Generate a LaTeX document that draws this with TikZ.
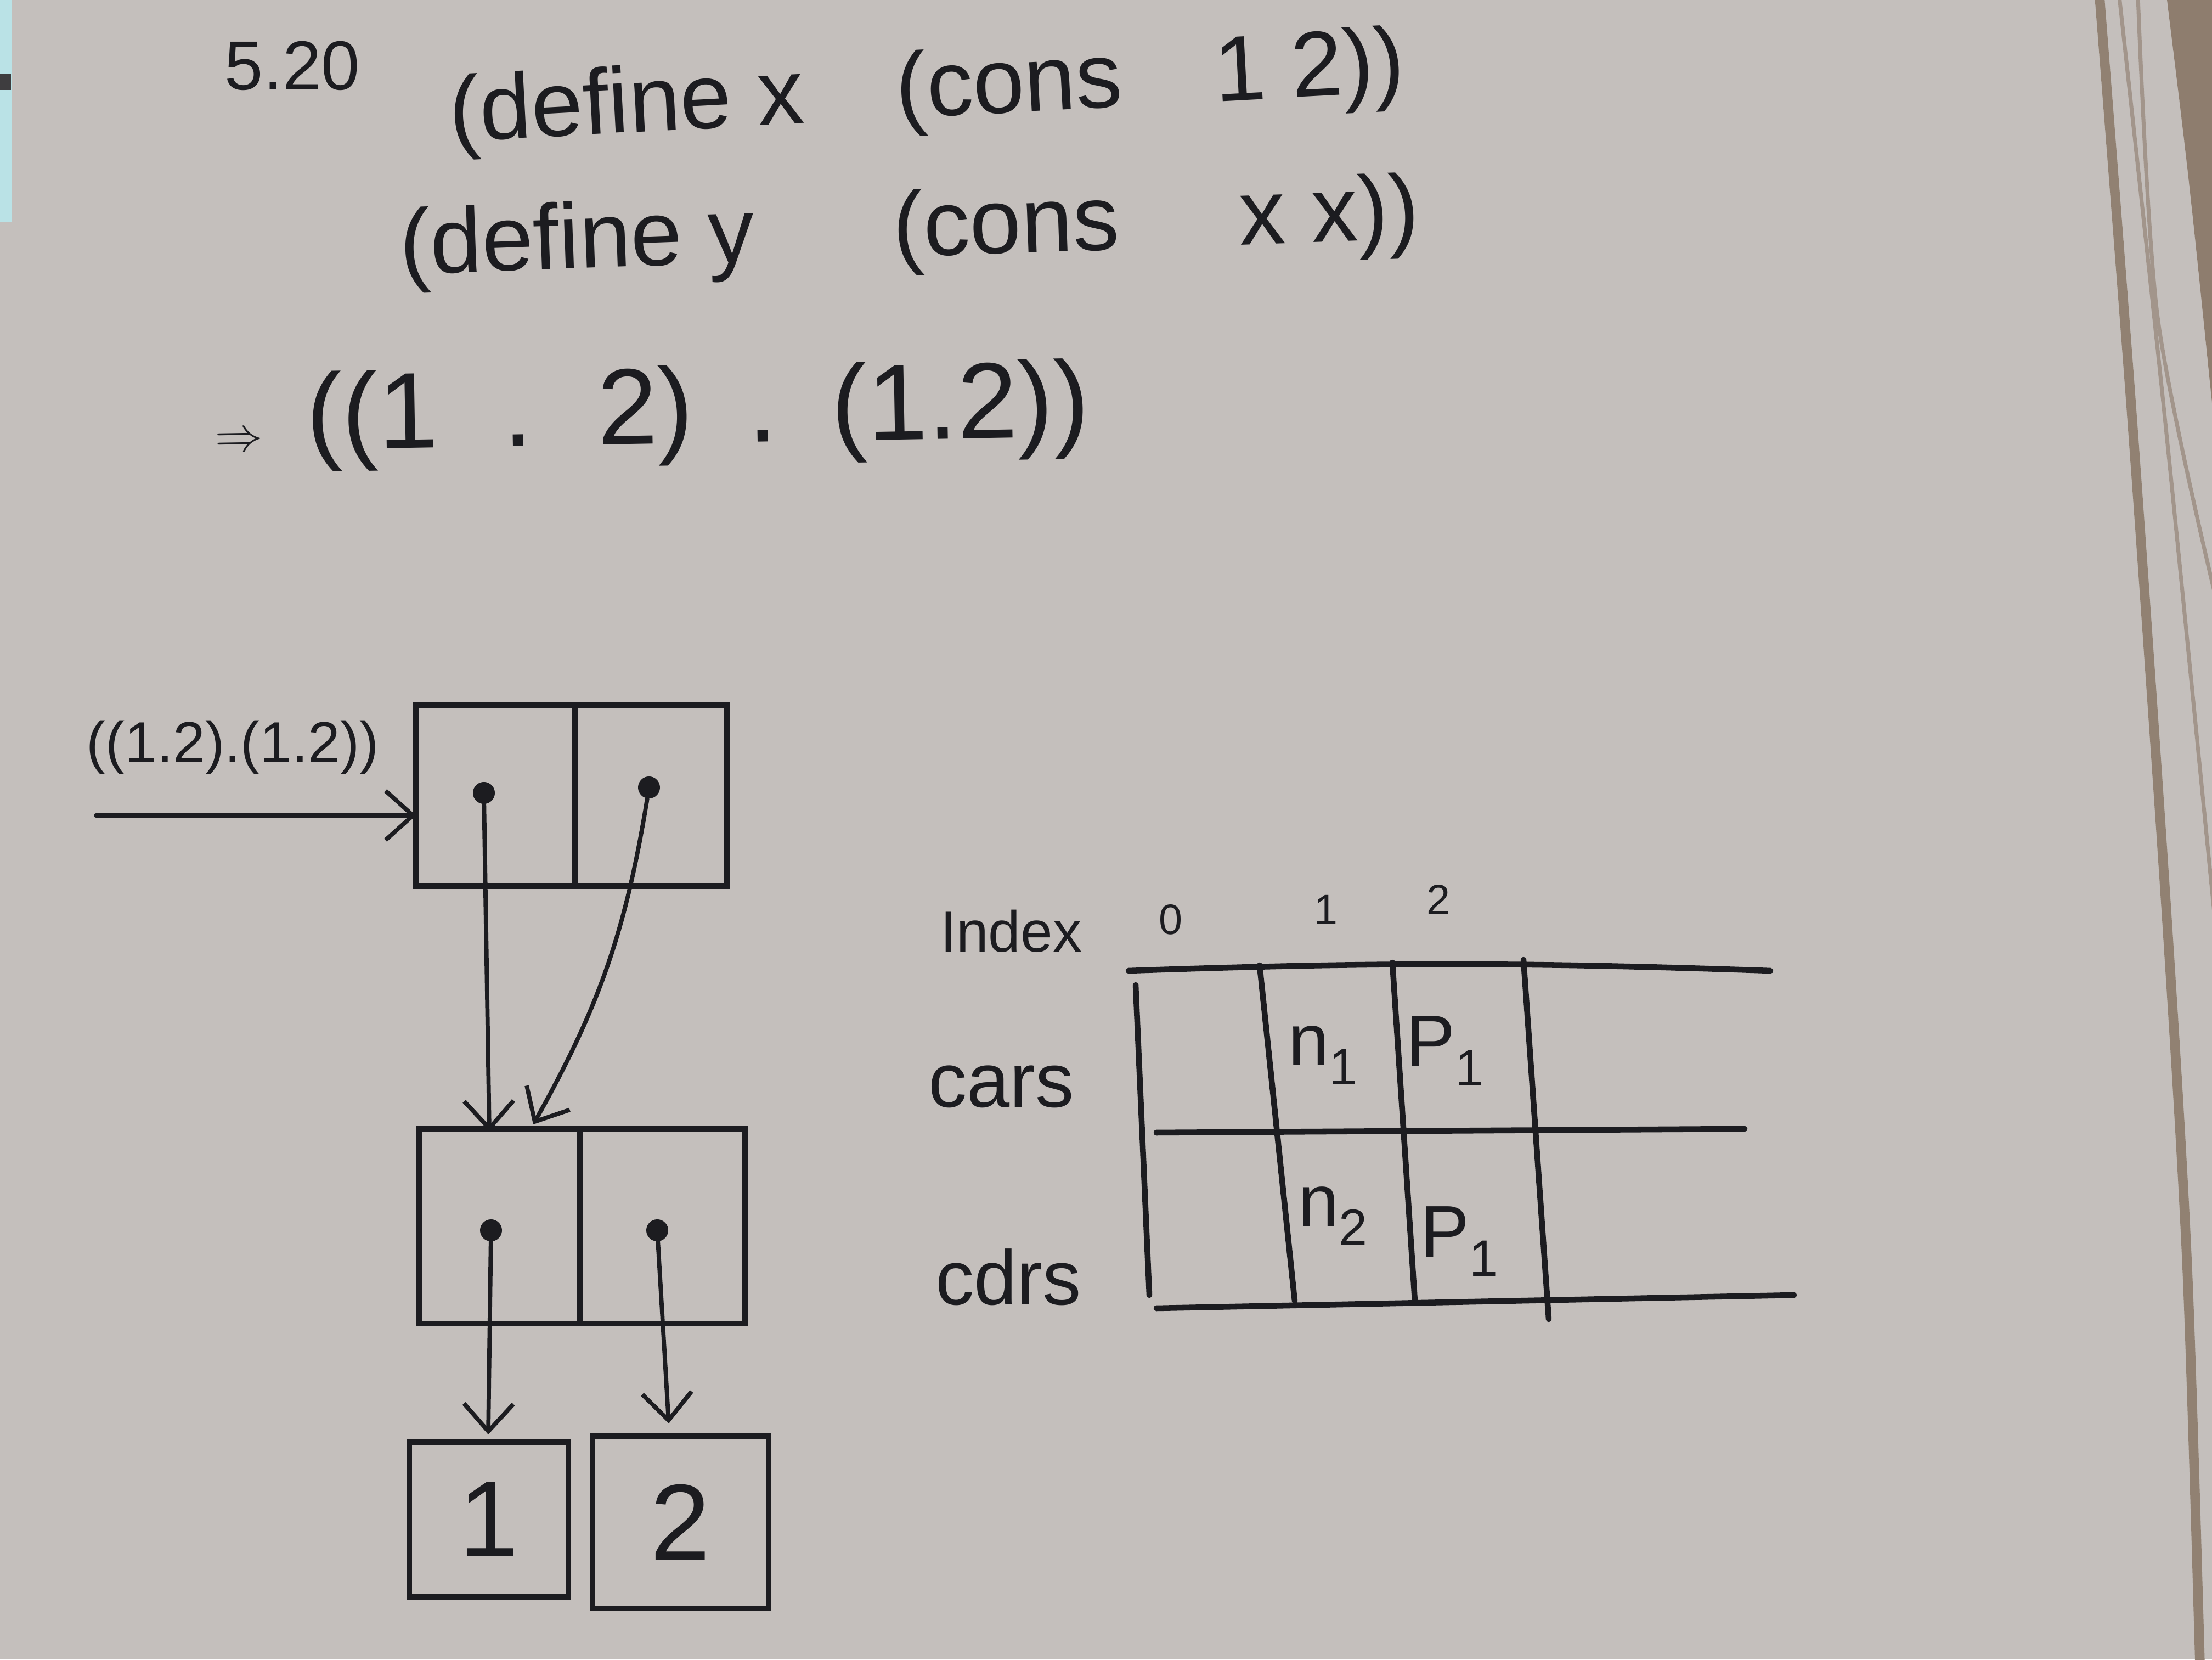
\documentclass[tikz,border=0pt]{standalone}
\usepackage{fontspec}
\setmainfont{Liberation Sans}
\usetikzlibrary{arrows.meta, positioning}

\definecolor{paper}{RGB}{196,191,188}
\definecolor{ink}{RGB}{28,28,32}
\definecolor{shadow}{RGB}{128,108,90}
\definecolor{sky}{RGB}{186,226,230}

\begin{document}
\begin{tikzpicture}[>={Straight Barb[length=5mm,width=9mm]},
  ink/.style={draw=ink, line width=3pt, line cap=round},
  cell/.style={ink, rectangle, inner sep=0pt, outer sep=0pt},
  ptr/.style={->, draw=ink, line width=2.2pt, line cap=round},
  dot/.style={circle, fill=ink, inner sep=0pt, minimum size=4mm},
  hand/.style={text=ink, inner sep=0pt}]
\useasboundingbox (0,0) rectangle (40.32,30.24);
\clip (0,0) rectangle (40.32,30.24);
% paper and page edges
\fill[paper] (0,0) rectangle (40.32,30.24);
\fill[sky] (0,26.2) rectangle (0.22,30.24);
\fill[ink!80!paper] (0,28.6) rectangle (0.2,28.9);
\fill[shadow!80!paper] (39.5,30.24) .. controls (39.9,27) .. (40.32,22.9) -- (40.32,30.24) -- cycle;
\draw[shadow!75!paper, line width=5pt] plot[smooth] coordinates {(38.27,30.3) (38.87,22.53) (39.5,13.46) (39.87,7.10) (40.1,-0.1)};
\draw[shadow!50!paper, line width=2pt] plot[smooth] coordinates {(38.63,30.3) (39.47,22.53) (40.4,13.2)};
\draw[shadow!50!paper, line width=2pt] plot[smooth] coordinates {(38.97,30.3) (39.33,24.45) (40.4,19.3)};

% exercise text
\node[hand, font=\fontsize{36}{40}\selectfont] (num) at (5.33,29.04) {5.20};
\node[hand, font=\fontsize{48}{54}\selectfont, rotate=3] (defx) at (16.9,28.55) {(define x\quad(cons\quad1 2))};
\node[hand, font=\fontsize{48}{54}\selectfont, rotate=2] (defy) at (16.58,26.0) {(define y\hspace{1.5em}(cons\hspace{1.3em}x x))};
\node[hand, font=\fontsize{56}{60}\selectfont, rotate=1] (res) at (11.89,22.66)
  {{\fontsize{28}{30}\selectfont$\Rightarrow$}\hspace{0.4em}((1\hspace{0.6em}.\hspace{0.6em}2)\hspace{0.5em}.\hspace{0.5em}(1.2))};

% box and pointer
\node[hand, font=\fontsize{30}{34}\selectfont] (lbl) at (4.24,16.62) {((1.2).(1.2))};
\node[cell, minimum width=2.89cm, minimum height=3.29cm] (car1) at (9.03,15.74) {};
\node[cell, minimum width=2.77cm, minimum height=3.29cm, right=0pt of car1] (cdr1) {};
\node[cell, minimum width=2.93cm, minimum height=3.55cm] (car2) at (9.105,7.895) {};
\node[cell, minimum width=3.01cm, minimum height=3.55cm, right=0pt of car2] (cdr2) {};
\node[cell, minimum width=2.90cm, minimum height=2.82cm, hand, font=\fontsize{56}{60}\selectfont] (one) at (8.91,2.55) {1};
\node[cell, minimum width=3.21cm, minimum height=3.14cm, hand, font=\fontsize{56}{60}\selectfont] (two) at (12.405,2.50) {2};

\node[dot] (d1) at (8.82,15.79) {};
\node[dot] (d2) at (11.83,15.89) {};
\node[dot] (d3) at (8.95,7.82) {};
\node[dot] (d4) at (11.98,7.82) {};
\coordinate (in) at (1.75,15.38);
\coordinate (t1) at (8.92,9.62);
\coordinate (t2) at (9.72,9.75);
\coordinate (t3) at (8.90,4.10);
\coordinate (t4) at (12.19,4.30);

\draw[ptr] (in) -- (in -| car1.west);
\draw[ptr] (d1) -- (t1);
\draw[ptr] (d2) to[bend left=10] (t2);
\draw[ptr] (d3) -- (t3);
\draw[ptr] (d4) -- (t4);

% table
\node[hand, font=\fontsize{30}{34}\selectfont] (idx) at (18.43,13.27) {Index};
\node[hand, font=\fontsize{22}{26}\selectfont] (i0) at (21.34,13.48) {0};
\node[hand, font=\fontsize{22}{26}\selectfont] (i1) at (24.17,13.66) {1};
\node[hand, font=\fontsize{22}{26}\selectfont] (i2) at (26.22,13.84) {2};
\node[hand, font=\fontsize{40}{44}\selectfont] (cars) at (18.25,10.44) {cars};
\node[hand, font=\fontsize{40}{44}\selectfont] (cdrs) at (18.38,6.97) {cdrs};
\node[hand, font=\fontsize{38}{42}\selectfont] (n1) at (24.12,11.01) {n\textsubscript{1}};
\node[hand, font=\fontsize{38}{42}\selectfont] (p1) at (26.35,11.09) {P\textsubscript{1}};
\node[hand, font=\fontsize{38}{42}\selectfont] (n2) at (24.30,8.08) {n\textsubscript{2}};
\node[hand, font=\fontsize{38}{42}\selectfont] (p2) at (26.61,7.62) {P\textsubscript{1}};

\draw[ink] (20.57,12.55) to[bend left=2] (32.27,12.55);
\draw[ink] (21.08,9.60) -- (31.80,9.67);
\draw[ink] (21.08,6.40) -- (32.70,6.64);
\draw[ink] (20.70,12.29) -- (20.95,6.64);
\draw[ink] (22.96,12.65) -- (23.60,6.53);
\draw[ink] (25.38,12.70) -- (25.79,6.53);
\draw[ink] (27.77,12.75) -- (28.23,6.20);
\end{tikzpicture}
\end{document}
